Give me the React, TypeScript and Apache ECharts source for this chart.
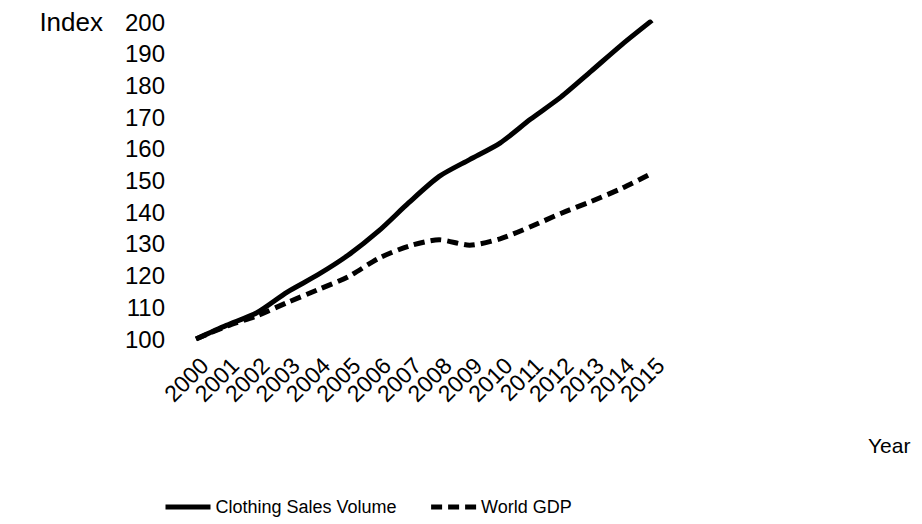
import React, { useEffect, useRef } from "react";
import * as echarts from "echarts";

const years = ["2000","2001","2002","2003","2004","2005","2006","2007","2008","2009","2010","2011","2012","2013","2014","2015"];
const clothingSales = [100, 104.3, 108.3, 114.8, 120.2, 126.4, 134, 143, 151.3, 156.6, 161.8, 169.3, 176.3, 184.5, 192.8, 200.5];
const worldGdp = [100, 104, 107.3, 111.5, 115.5, 119.6, 125.4, 129.3, 131.3, 129.6, 131.6, 135.4, 139.6, 143.4, 147.5, 152.3];
const yMin = 100;
const yMax = 200;
const yStep = 10;

const FONT = "'Liberation Sans', Arial, sans-serif";

export default function App() {
  const ref = useRef<HTMLDivElement>(null);
  useEffect(() => {
    if (!ref.current) return;
    const chart = echarts.init(ref.current, undefined, { renderer: "svg" });
    chart.setOption({
      animation: false,
      backgroundColor: "#ffffff",
      textStyle: { fontFamily: FONT, color: "#000" },
      grid: { left: 196, right: 270, top: 22, bottom: 185, containLabel: false },
      legend: {
        bottom: 8,
        left: 163,
        padding: 0,
        itemWidth: 45,
        itemHeight: 14,
        itemGap: 32,
        itemStyle: { opacity: 0 },
        lineStyle: { width: 5 },
        textStyle: { fontSize: 18, color: "#000", fontFamily: FONT },
        data: ["Clothing Sales Volume", "World GDP"],
      },
      xAxis: {
        type: "category",
        data: years,
        boundaryGap: false,
        axisLine: { show: false },
        axisTick: { show: false },
        axisLabel: { interval: 0, rotate: 45, fontSize: 23, color: "#000", margin: 31, padding: [0, -12, 0, 0], fontFamily: FONT },
        name: "Year",
        nameLocation: "end",
        nameGap: 216,
        nameTextStyle: { fontSize: 21, color: "#000", verticalAlign: "top", padding: [96, 0, 0, 0], fontFamily: FONT },
      },
      yAxis: {
        type: "value",
        min: yMin,
        max: yMax,
        interval: yStep,
        splitLine: { show: false },
        axisLine: { show: false },
        axisTick: { show: false },
        axisLabel: { fontSize: 24, color: "#000", margin: 31, fontFamily: FONT },
        name: "Index",
        nameLocation: "end",
        nameGap: 0,
        nameTextStyle: { fontSize: 26, color: "#000", align: "right", verticalAlign: "middle", padding: [0, 93, 0, 0], fontFamily: FONT },
      },
      series: [
        {
          name: "Clothing Sales Volume",
          type: "line",
          data: clothingSales,
          symbol: "none",
          smooth: 0.25,
          lineStyle: { color: "#000", width: 5, type: "solid" },
          itemStyle: { color: "#000" },
        },
        {
          name: "World GDP",
          type: "line",
          data: worldGdp,
          symbol: "none",
          smooth: 0.25,
          lineStyle: { color: "#000", width: 5, type: [11, 6] },
          itemStyle: { color: "#000" },
        },
      ],
    });
    return () => chart.dispose();
  }, []);
  return (
    <div
      ref={ref}
      style={{ position: "fixed", left: 0, top: 0, width: 922, height: 524 }}
    />
  );
}
